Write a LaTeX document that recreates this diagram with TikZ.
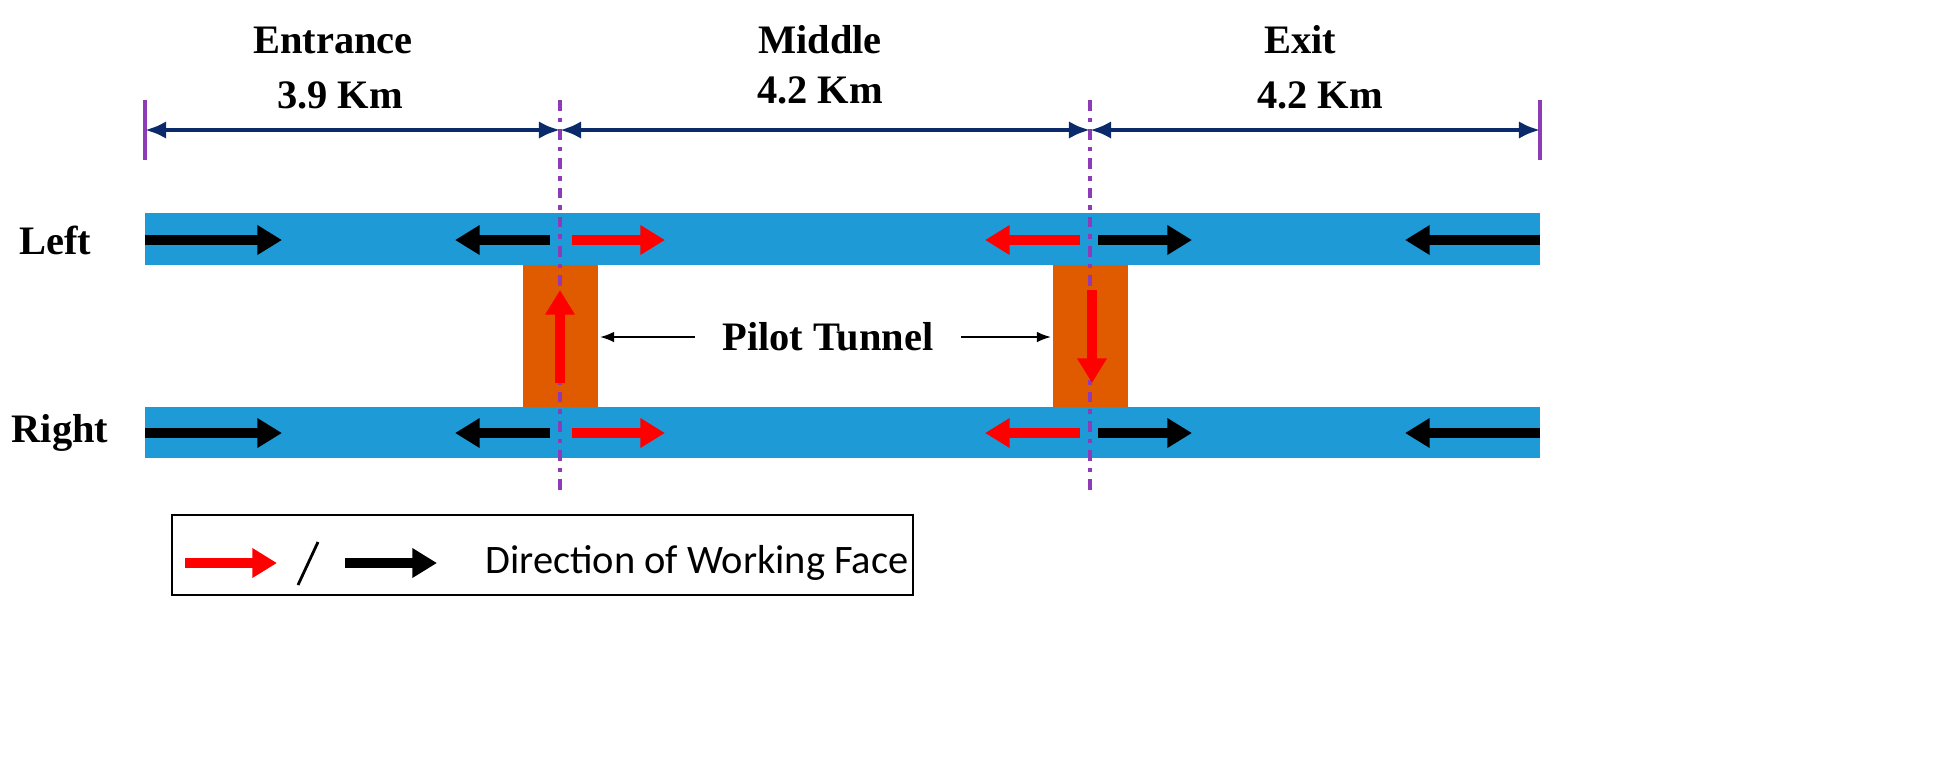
\documentclass[tikz,border=0pt]{standalone}
\usepackage{fontspec}
\setmainfont{Liberation Serif}
\newfontfamily\legendfont{Carlito}
\usetikzlibrary{arrows.meta}
\definecolor{tblue}{HTML}{1E9BD7}
\definecolor{torange}{HTML}{E05A00}
\definecolor{navy}{HTML}{0B2A6B}
\definecolor{purp}{HTML}{8E3BB8}
\begin{document}
\begin{tikzpicture}[x=0.01cm,y=-0.01cm,
  lbl/.style={font=\bfseries\fontsize{11.5}{13}\selectfont,align=center},
  fat/.style={line width=2.6pt,-{Triangle[length=7pt,width=8pt]}},
  blk/.style={fat,black}, rd/.style={fat,red},
  thin/.style={line width=0.5pt,-{Latex[length=4pt,width=3pt]}}]
\useasboundingbox (0,0) rectangle (1958,769);
% tunnels
\fill[tblue] (145,213) rectangle (1540,265);
\fill[tblue] (145,407) rectangle (1540,458);
\fill[torange] (523,265) rectangle (598,407);
\fill[torange] (1053,265) rectangle (1128,407);
% purple lines
\draw[purp,line width=1.3pt] (145,100) -- (145,160);
\draw[purp,line width=1.3pt] (1540,100) -- (1540,160);
\draw[purp,line width=1.3pt,dash dot] (560,100) -- (560,495);
\draw[purp,line width=1.3pt,dash dot] (1090,100) -- (1090,495);
% dimension
\coordinate (d0) at (145,130); \coordinate (d1) at (560,130);
\coordinate (d2) at (1090,130); \coordinate (d3) at (1540,130);
\draw[navy,line width=1.2pt,{Latex[length=6pt,width=5pt]}-{Latex[length=6pt,width=5pt]}] (d0)--(d1);
\draw[navy,line width=1.2pt,{Latex[length=6pt,width=5pt]}-{Latex[length=6pt,width=5pt]}] (d1)--(d2);
\draw[navy,line width=1.2pt,{Latex[length=6pt,width=5pt]}-{Latex[length=6pt,width=5pt]}] (d2)--(d3);
\node[lbl] (e1) at (333,40) {Entrance};
\node[lbl] (e2) at (340,95) {3.9 Km};
\node[lbl] (m1) at (820,40) {Middle};
\node[lbl] (m2) at (820,90) {4.2 Km};
\node[lbl] (x1) at (1300,40) {Exit};
\node[lbl] (x2) at (1320,95) {4.2 Km};
\node[lbl] (lt) at (55,240) {Left};
\node[lbl] (rt) at (60,433) {Right};
% arrows
\foreach \y in {240,433}{
 \draw[blk] (145,\y) -- (282,\y);
 \draw[blk] (550,\y) -- (455,\y);
 \draw[rd] (572,\y) -- (665,\y);
 \draw[rd] (1080,\y) -- (985,\y);
 \draw[blk] (1098,\y) -- (1192,\y);
 \draw[blk] (1540,\y) -- (1405,\y);
}
\draw[rd] (560,383) -- (560,290);
\draw[rd] (1092,290) -- (1092,383);
\node[lbl] (pt) at (828,337) {Pilot Tunnel};
\coordinate (p1) at (600,337); \coordinate (p2) at (1051,337);
\draw[thin] (pt.west)++(-15,0) -- (p1);
\draw[thin] (pt.east)++(15,0) -- (p2);
% legend
\draw[line width=0.8pt] (172,515) rectangle (913,595);
\draw[rd] (185,563) -- (277,563);
\draw[line width=0.8pt] (298,585) -- (318,542);
\draw[blk] (345,563) -- (437,563);
\node[anchor=west,font=\legendfont\fontsize{11.5}{13}\selectfont] (lg) at (473,563) {Direction of Working Face};
\end{tikzpicture}
\end{document}
